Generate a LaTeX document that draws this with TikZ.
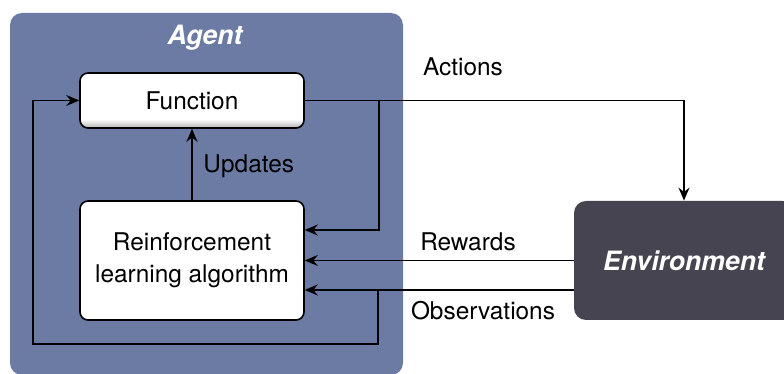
\documentclass[tikz,border=0pt]{standalone}
\usepackage{fontspec}
\setmainfont{TeX Gyre Heros}
\usetikzlibrary{arrows.meta,calc,shadows}
\definecolor{agentblue}{RGB}{107,123,163}
\definecolor{envdark}{RGB}{69,68,80}
\pgfdeclareverticalshading{fnshade}{100bp}{color(0bp)=(black!30); color(25bp)=(black!30); color(33bp)=(white); color(100bp)=(white)}
\begin{document}
\begin{tikzpicture}[x=0.5pt,y=-0.5pt,
  every node/.style={font=\fontsize{12.2}{14.5}\selectfont},
  arr/.style={draw=black,line width=0.9pt,-{Stealth[length=6.5pt,width=5.5pt,inset=2.2pt]}},
  whitebox/.style={draw=black,line width=0.8pt,rounded corners=4pt,fill=white,align=center,inner sep=0pt},
  lbl/.style={inner sep=0pt,text=black},
  titlefont/.style={font=\fontsize{13.3}{15}\selectfont\bfseries\itshape,text=white}]
\useasboundingbox (0,0) rectangle (784,374);
% agent container
\node[fill=agentblue,rounded corners=6pt,minimum width=196.5pt,minimum height=181pt,inner sep=0pt] (agent) at (206.5,194) {};
\node[lbl,titlefont] (agentlbl) at (205,38) {Agent};
% environment (continues past the right edge)
\fill[envdark] (660,201) rectangle (800,320);
\node[fill=envdark,rounded corners=6pt,minimum width=110pt,minimum height=59.5pt,inner sep=0pt,titlefont] (env) at (684,260.5) {Environment};
% function
\node[whitebox,minimum width=112pt,minimum height=27.5pt,shading=fnshade] (fn) at (192,100.5) {Function};
% RL
\node[whitebox,minimum width=112pt,minimum height=59.5pt] (rl) at (192,260.5) {Reinforcement\\[1.5pt]learning algorithm};
% connectors
\coordinate (b1) at (379,100.5);
\coordinate (b2) at (378,290);
\coordinate (c1) at (378,344);
\coordinate (c2) at (33,344);
\draw[arr] (rl.north) -- (fn.south);
\draw[arr] (fn.east) -| (env.north);
\draw[arr] (b1) |- ([yshift=15.25pt]rl.east);
\draw[arr] (env.west) -- (rl.east);
\draw[arr] ([yshift=-14.75pt]env.west) -- ([yshift=-14.75pt]rl.east);
\draw[arr] (b2) -- (c1) -- (c2) |- (fn.west);
% labels
\node[lbl,anchor=west] (updates) at (203,166) {Updates};
\node[lbl] (actions) at (463,67) {Actions};
\node[lbl] (rewards) at (468,242) {Rewards};
\node[lbl] (obs) at (483,311) {Observations};
\end{tikzpicture}
\end{document}
